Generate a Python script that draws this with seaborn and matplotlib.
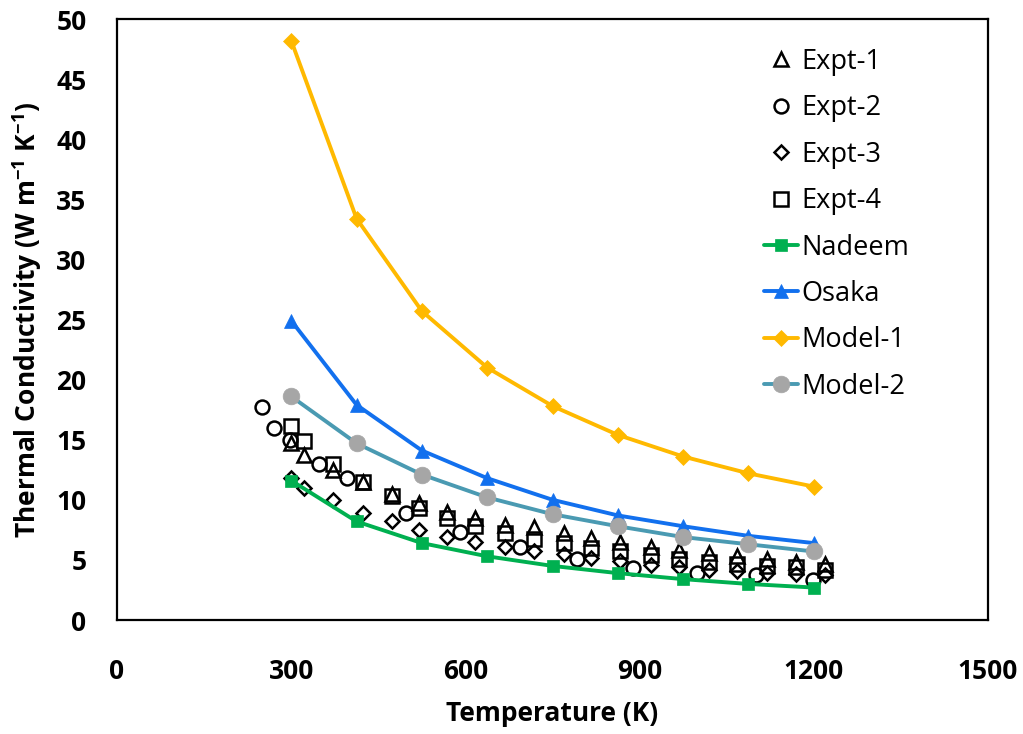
import matplotlib
matplotlib.use("Agg")
import matplotlib.pyplot as plt
import seaborn as sns

# temperatures (K) and conductivities
t_model = [300, 412.5, 525, 637.5, 750, 862.5, 975, 1087.5, 1200]
nadeem = [11.6, 8.2, 6.4, 5.3, 4.5, 3.9, 3.4, 3.0, 2.7]
osaka = [24.9, 17.9, 14.1, 11.8, 10.0, 8.7, 7.8, 7.0, 6.4]
model_1 = [48.2, 33.4, 25.7, 21.0, 17.8, 15.4, 13.6, 12.2, 11.1]
model_2 = [18.6, 14.7, 12.1, 10.2, 8.8, 7.8, 6.9, 6.3, 5.7]

t_expt = [300, 322, 372, 424, 474, 520, 568, 617, 668, 718,
          770, 817, 867, 919, 968, 1019, 1068, 1120, 1169, 1219]
expt_1 = [14.75, 13.7, 12.5, 11.5, 10.5, 9.7, 9.0, 8.5, 7.9, 7.7,
          7.2, 6.8, 6.5, 6.1, 5.8, 5.55, 5.3, 5.1, 4.85, 4.7]
expt_3 = [11.8, 11.0, 10.0, 8.9, 8.2, 7.5, 6.9, 6.5, 6.1, 5.7,
          5.5, 5.2, 4.9, 4.6, 4.4, 4.2, 4.05, 3.95, 3.85, 3.75]
expt_4 = [16.1, 14.9, 13.0, 11.5, 10.3, 9.3, 8.5, 7.8, 7.2, 6.7,
          6.4, 6.0, 5.7, 5.4, 5.1, 4.85, 4.7, 4.5, 4.4, 4.2]
t_expt_2 = [250, 270, 298, 347, 396, 497, 591, 694, 793, 889, 998, 1100, 1199]
expt_2 = [17.7, 15.95, 15.0, 13.0, 11.8, 8.9, 7.35, 6.05, 5.07, 4.3, 3.88, 3.74, 3.33]

sns.set_style("white")
plt.rcParams["font.family"] = ["Open Sans", "DejaVu Sans"]
plt.rcParams["mathtext.fontset"] = "custom"
plt.rcParams["mathtext.rm"] = "Open Sans"
plt.rcParams["mathtext.bf"] = "Open Sans:bold"
plt.rcParams["text.color"] = "black"
plt.rcParams["axes.labelcolor"] = "black"
plt.rcParams["xtick.labelcolor"] = "black"
plt.rcParams["ytick.labelcolor"] = "black"

fig = plt.figure(figsize=(10.23, 7.34), dpi=100)
ax = fig.add_axes([0.1144, 0.1553, 0.8514, 0.8188])

# experimental points: hollow black markers, no line
expt_series = [
    ("Expt-1", t_expt, expt_1, "^", 10),
    ("Expt-2", t_expt_2, expt_2, "o", 10),
    ("Expt-3", t_expt, expt_3, "D", 7.5),
    ("Expt-4", t_expt, expt_4, "s", 9.5),
]
for name, t, k, m, ms in expt_series:
    sns.lineplot(x=t, y=k, ax=ax, label=name, linestyle="none", marker=m,
                 markersize=ms, markerfacecolor="none", markeredgecolor="black",
                 markeredgewidth=1.8, color="black")

# model curves
model_series = [
    ("Nadeem", nadeem, "#00B050", "s", "#00B050", 9),
    ("Osaka", osaka, "#1270EE", "^", "#1270EE", 10),
    ("Model-1", model_1, "#FFB900", "D", "#FFB900", 8),
    ("Model-2", model_2, "#4A9AB2", "o", "#A6A6A6", 12),
]
for name, k, c, m, mc, ms in model_series:
    sns.lineplot(x=t_model, y=k, ax=ax, label=name, color=c, linewidth=2.8,
                 marker=m, markersize=ms, markerfacecolor=mc,
                 markeredgecolor=mc, markeredgewidth=0.5)

ax.set_xlim(0, 1500)
ax.set_ylim(0, 50)
ax.set_xticks([0, 300, 600, 900, 1200, 1500])
ax.set_yticks(range(0, 51, 5))
ax.tick_params(axis="both", direction="out", length=7, width=1.2,
               color="#8C8C8C", labelsize=19)
ax.tick_params(axis="x", pad=20)
ax.tick_params(axis="y", pad=15)
for lab in ax.get_xticklabels() + ax.get_yticklabels():
    lab.set_fontweight("bold")
for sp in ax.spines.values():
    sp.set_visible(True)
    sp.set_color("black")
    sp.set_linewidth(1.6)

ax.set_xlabel("Temperature (K)", fontsize=19, fontweight="bold", labelpad=11)
ax.set_ylabel(r"Thermal Conductivity (W m$^{\mathbf{-1}}$ K$^{\mathbf{-1}}$)",
              fontsize=19, fontweight="bold", labelpad=9)

leg = ax.legend(loc="upper right", bbox_to_anchor=(0.922, 0.97), frameon=False,
                fontsize=19.5, handlelength=1.25, handletextpad=0.12,
                labelspacing=0.68, borderaxespad=0)
for txt in leg.get_texts():
    txt.set_color("black")

fig.savefig("out.png", dpi=100)
